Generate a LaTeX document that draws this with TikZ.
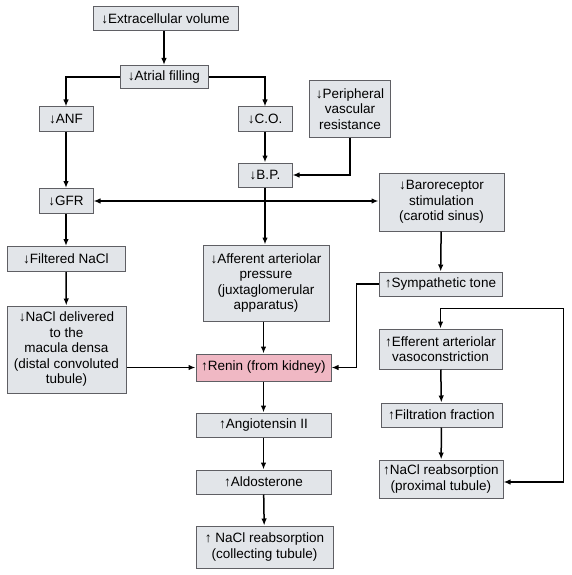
\documentclass[tikz,border=0pt]{standalone}
\usepackage{fontspec}
\setmainfont{Liberation Sans}
\usepackage{tikz}
\usetikzlibrary{arrows.meta, calc}
\definecolor{boxgray}{RGB}{226,229,233}
\definecolor{boxline}{RGB}{95,95,100}
\definecolor{reninpink}{RGB}{240,184,196}
\newcommand{\arDn}{↓}
\newcommand{\arUp}{↑}
\tikzset{
  bxG/.style 2 args={draw=boxline, fill=boxgray, line width=1pt,
              minimum width=#1, minimum height=#2, inner sep=1pt,
              align=center, font=\fontsize{13.5}{15.5}\selectfont},
  bxR/.style 2 args={bxG={#1}{#2}, fill=reninpink},
  arr/.style={-{Latex[length=7pt, width=5.5pt]}, line width=1.5pt},
  dbl/.style={{Latex[length=7pt, width=5.5pt]}-{Latex[length=7pt, width=5.5pt]}, line width=1.5pt},
}

\begin{document}
\begin{tikzpicture}[x=1pt, y=-1pt]
  \useasboundingbox (0,0) rectangle (571,575);

  % central column
  \node[bxG={145pt}{24pt}] (ecv)    at (165.5,19)  {\arDn Extracellular volume};
  \node[bxG={88pt}{23pt}]  (atrial) at (164,77)    {\arDn Atrial filling};
  \node[bxG={54pt}{24pt}]  (anf)    at (66,119)    {\arDn ANF};
  \node[bxG={54pt}{24pt}]  (co)     at (265,119)   {\arDn C.O.};
  \node[bxG={81pt}{56pt}]  (pvr)    at (350,109)   {\arDn Peripheral\\vascular\\resistance};
  \node[bxG={54pt}{24pt}]  (bp)     at (265,175)   {\arDn B.P.};
  \node[bxG={54pt}{25pt}]  (gfr)    at (66,201)    {\arDn GFR};
  \node[bxG={125pt}{58pt}] (baro)   at (441.5,202) {\arDn Baroreceptor\\stimulation\\(carotid sinus)};
  \node[bxG={118pt}{25pt}] (filt)   at (66,259)    {\arDn Filtered NaCl};
  \node[bxG={126pt}{76pt}] (aff)    at (266,283)   {\arDn Afferent arteriolar\\pressure\\(juxtaglomerular\\apparatus)};
  \node[bxG={119pt}{87pt}] (nacl)   at (66.5,349.5) {\arDn NaCl delivered\\to the\\macula densa\\(distal convoluted\\tubule)};
  \node[bxR={135pt}{27pt}] (renin)  at (263.5,367.5) {\arUp Renin (from kidney)};
  \node[bxG={135pt}{24pt}] (ang)    at (263.5,425) {\arUp Angiotensin II};
  \node[bxG={135pt}{24pt}] (ald)    at (263.5,482) {\arUp Aldosterone};
  \node[bxG={137pt}{42pt}] (coll)   at (264.5,547) {\arUp\ NaCl reabsorption\\(collecting tubule)};

  % right column
  \node[bxG={123pt}{24pt}] (symp)   at (440.5,284) {\arUp Sympathetic tone};
  \node[bxG={123pt}{40pt}] (eff)    at (440.5,349) {\arUp Efferent arteriolar\\vasoconstriction};
  \node[bxG={121pt}{24pt}] (ff)     at (441.5,415) {\arUp Filtration fraction};
  \node[bxG={124pt}{38pt}] (prox)   at (441,479)   {\arUp NaCl reabsorption\\(proximal tubule)};

  \draw[arr] (ecv.south -| atrial.north) -- (atrial.north);
  \draw[arr] (atrial.west) -| (anf.north);
  \draw[arr] (atrial.east) -| (co.north);
  \draw[arr] (anf) -- (gfr);
  \draw[arr] (co) -- (bp);
  \draw[arr] (pvr.south) |- (bp.east);
  \draw[dbl] (gfr.east) -- (gfr.east -| baro.west);
  \draw[arr] (bp.south) -- (bp.south |- aff.north);
  \draw[arr] (gfr) -- (filt);
  \draw[arr] (filt) -- (nacl);
  \draw[arr] (aff.south -| renin.north) -- (renin.north);
  \draw[arr] (nacl.east |- renin.west) -- (renin.west);
  \draw[arr] (baro) -- (symp);
  \draw[arr] (symp.west) -- ++(-22,0) |- (renin.east);
  \draw[arr] (renin) -- (ang);
  \draw[arr] (ang) -- (ald);
  \draw[arr] (ald) -- (coll);
  \draw[arr] (eff) -- (ff);
  \draw[arr] (ff) -- (prox);
  \draw[dbl] ($(prox.east)+(0,3)$) -- ++(60,0) |- ($(eff.north)+(0,-20)$) -- (eff.north);
\end{tikzpicture}
\end{document}
